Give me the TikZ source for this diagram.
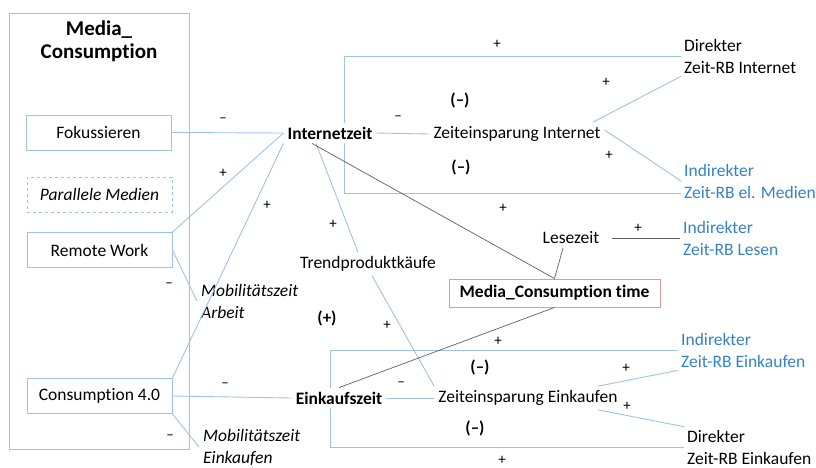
\documentclass[tikz,border=0pt]{standalone}
\usepackage{fontspec}
\setmainfont{Carlito}[Ligatures=NoCommon]
\usetikzlibrary{backgrounds}
\definecolor{lineblue}{HTML}{9DC3E6}
\definecolor{textblue}{RGB}{52,130,200}
\definecolor{boxred}{RGB}{232,150,150}
\definecolor{linegray}{RGB}{95,95,95}
\tikzset{
  term/.style={font=\fontsize{17.5}{22}\selectfont, inner sep=4pt, fill=white, align=left},
  keyterm/.style={term, font=\fontsize{17.5}{22}\selectfont\bfseries},
  rbterm/.style={term, anchor=west, inner sep=3pt},
  mobterm/.style={term, anchor=west, font=\fontsize{17.5}{22}\selectfont\itshape},
  factor/.style={draw=lineblue, line width=0.9pt, minimum width=145pt, minimum height=35pt,
    font=\fontsize{17.5}{22}\selectfont, inner sep=0pt},
  sign/.style={font=\fontsize{15}{18}\selectfont, inner sep=0pt},
  loopsign/.style={font=\fontsize{17}{20}\selectfont\bfseries, inner sep=0pt},
  link/.style={draw=lineblue, line width=0.9pt},
  glink/.style={draw=linegray, line width=0.7pt}
}
\begin{document}
\begin{tikzpicture}[x=1pt,y=-1pt]
\useasboundingbox (0,0) rectangle (816,467);
% scenario frame
\draw[lineblue, line width=0.9pt] (9,13) rectangle (189,449);
\node[font=\fontsize{21}{23}\selectfont\bfseries, align=center, inner sep=0pt] (title) at (99,41) {Media\_\\Consumption};
\node[factor] (fok) at (98.5,132.5) {Fokussieren};
\node[factor, dashed, font=\fontsize{17.5}{22}\selectfont\itshape] (par) at (99.5,194.5) {Parallele Medien};
\node[factor] (remote) at (99.5,250) {Remote Work};
\node[factor] (cons) at (99.5,396) {Consumption 4.0};
% time variables
\node[keyterm] (intz) at (330,133) {Internetzeit};
\node[term] (zeitI) at (517,134) {Zeiteinsparung Internet};
\node[term] (trend) at (368,264) {Trendproduktkäufe};
\node[term] (lese) at (571,238) {Lesezeit};
\node[keyterm] (einz) at (339,398) {Einkaufszeit};
\node[term] (zeitE) at (528,398) {Zeiteinsparung Einkaufen};
\node[draw=boxred, line width=0.9pt, minimum width=211pt, minimum height=28pt, inner sep=0pt,
  font=\fontsize{17.5}{22}\selectfont\bfseries] (media) at (554.5,293) {Media\_Consumption time};
\node[mobterm] (arb) at (197,301) {Mobilitätszeit\\Arbeit};
\node[mobterm] (einkM) at (199,447) {Mobilitätszeit\\Einkaufen};
% rebound effects
\node[rbterm] (direkt) at (681,56) {Direkter\\Zeit-RB Internet};
\node[rbterm, text=textblue] (elm) at (681,181) {Indirekter\\Zeit-RB el. Medien};
\node[rbterm, text=textblue] (indL) at (680,238) {Indirekter\\Zeit-RB Lesen};
\node[rbterm, text=textblue] (indE) at (678,350) {Indirekter\\Zeit-RB Einkaufen};
\node[rbterm] (direkE) at (684,447) {Direkter\\Zeit-RB Einkaufen};
% feedback loops
\coordinate (iL) at (344,193);
\coordinate (eL) at (330,447);
\begin{scope}[on background layer]
\draw[link] (direkt.west) -| (iL) -- (iL -| elm.west);
\draw[link] (indE.west) -| (eL) -- (eL -| direkE.west);
\end{scope}
% connections
\draw[link] (fok.east) -- (intz.west);
\draw[link] (remote.north east) -- (intz.west);
\draw[link] (cons.north east) -- (intz.south west);
\draw[link] (remote.east) -- (arb.west);
\draw[link] (cons.east) -- (einz.west);
\draw[link] (cons.south east) -- (einkM.west);
\draw[link] ([xshift=-14pt]intz.south) -- ([xshift=-10pt]trend.north);
\draw[link] ([xshift=4pt]trend.south) -- (zeitE.north west);
\draw[link] (intz.east) -- (zeitI.west);
\draw[link] ([xshift=-12pt]zeitI.north east) -- (direkt.south west);
\draw[link] ([yshift=4pt]zeitI.east) -- (elm.west);
\draw[link] (einz.east) -- (zeitE.west);
\draw[link] ([xshift=-24pt]zeitE.north east) -- (indE.south west);
\draw[link] ([xshift=-24pt]zeitE.south east) -- (direkE.north west);
\draw[glink] ([xshift=-18pt]intz.south) -- (media.north);
\draw[glink] ([xshift=-8pt]lese.south) -- (media.north);
\draw[glink] ([xshift=9pt]lese.east) -- (indL.west);
\draw[glink] (einz.north) -- (media.south);
% polarities
\node[sign] (s1) at (223,120) {–};
\node[sign] (s2) at (223,173) {+};
\node[sign] (s3) at (267,205) {+};
\node[sign] (s4) at (333,224) {+};
\node[sign] (s5) at (387,325) {+};
\node[sign] (s6) at (169,285) {–};
\node[sign] (s7) at (225,385) {–};
\node[sign] (s8) at (170,437) {–};
\node[sign] (s9) at (398,118) {–};
\node[sign] (s10) at (497,44) {+};
\node[sign] (s11) at (503,208) {+};
\node[sign] (s12) at (606,82) {+};
\node[sign] (s13) at (609,155) {+};
\node[sign] (s14) at (638,228) {+};
\node[sign] (s15) at (401,384) {–};
\node[sign] (s16) at (498,341) {+};
\node[sign] (s17) at (502,460) {+};
\node[sign] (s18) at (626,368) {+};
\node[sign] (s19) at (627,406) {+};
\node[loopsign] (l1) at (460,100) {(–)};
\node[loopsign] (l2) at (461,167) {(–)};
\node[loopsign] (l3) at (480,367) {(–)};
\node[loopsign] (l4) at (475,428) {(–)};
\node[loopsign] (l5) at (327,318) {(+)};
\end{tikzpicture}
\end{document}
